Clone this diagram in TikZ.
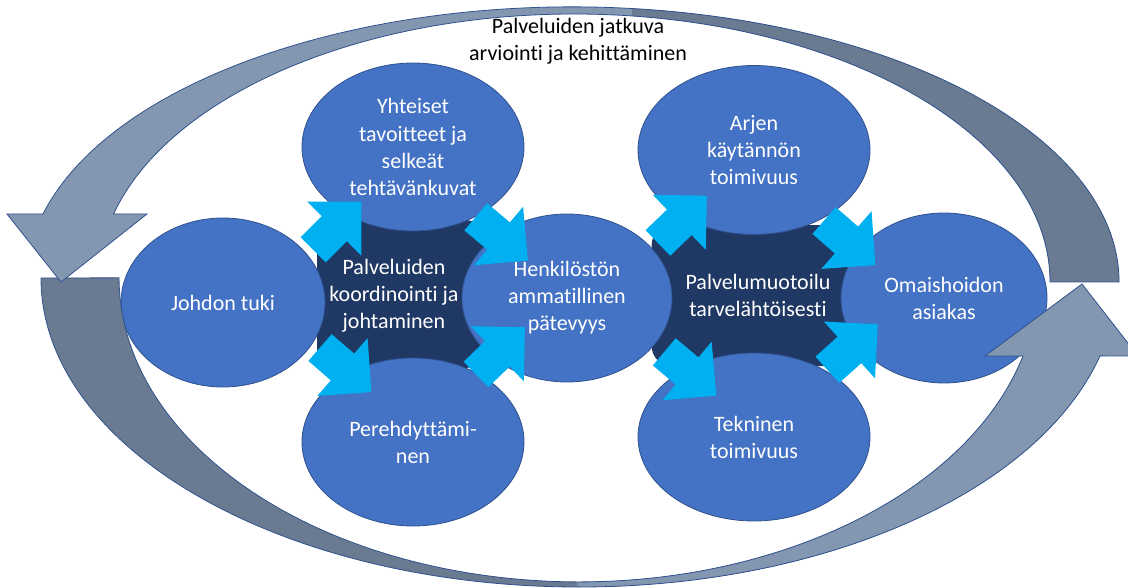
\documentclass[tikz,border=0pt]{standalone}
\usepackage{fontspec}
\setmainfont{Carlito}[Ligatures=NoCommon]
\usetikzlibrary{shapes.geometric,shapes.arrows}
\definecolor{bubblefill}{HTML}{4472C4}
\definecolor{bubbleedge}{HTML}{2F528F}
\definecolor{hubfill}{HTML}{203864}
\definecolor{flowfill}{HTML}{00B0F0}
\definecolor{cyclelight}{HTML}{8497B0}
\definecolor{cycledark}{HTML}{6A7A91}
% outlines of the two curved cycle arrows
\newcommand{\toploop}{(43,214) arc[start angle=194.3, end angle=360, x radius=546.5, y radius=275]
  -- (1050,282) arc[start angle=360, end angle=194.7, x radius=476, y radius=268]
  -- (147,214) -- (61,282) -- (7,214) -- cycle}
\newcommand{\bottomloop}{(41,278) arc[start angle=180, end angle=14.6, x radius=538.2, y radius=309]
  -- (1138,356) -- (1082,284) -- (985,356) -- (1023,356)
  arc[start angle=14.9, end angle=180, x radius=459.7, y radius=304] -- cycle}
\begin{document}
\begin{tikzpicture}[x=0.75pt, y=-0.75pt,
  every node/.style={font=\fontsize{16.5}{20.3}\selectfont, align=center},
  bubble/.style={ellipse, fill=bubblefill, draw=bubbleedge, line width=0.6pt, text=white, inner sep=0pt},
  hub/.style={rectangle, rounded corners=15pt, fill=hubfill, inner sep=0pt},
  flow/.style={single arrow, fill=flowfill, single arrow head extend=15.4pt,
    inner xsep=0pt, inner ysep=13.1pt, minimum height=51pt}]
  \useasboundingbox (0,0) rectangle (1128,588);
  % Dark hubs behind the bubbles
  \node[hub, minimum width=126pt, minimum height=111pt] (koord) at (401,294) {};
  \node[hub, minimum width=164pt, minimum height=105.75pt] (muoto) at (761,295.5) {};
  % Bubbles
  \node[bubble, minimum width=153pt, minimum height=126.75pt] (johto) at (223,302.5) {Johdon tuki};
  \node[bubble, minimum width=166.5pt, minimum height=126pt] (tavoite) at (413,147) {Yhteiset\\tavoitteet ja\\selkeät\\tehtävänkuvat};
  \node[bubble, minimum width=166.5pt, minimum height=126pt] (pere) at (413,442) {Perehdyttämi-\\nen};
  \node[bubble, minimum width=157.5pt, minimum height=126pt] (henk) at (567,298) {Henkilöstön\\ammatillinen\\pätevyys};
  \node[bubble, minimum width=174pt, minimum height=126.75pt] (arki) at (754,150) {Arjen\\käytännön\\toimivuus};
  \node[bubble, minimum width=174pt, minimum height=126pt] (tekn) at (754,437) {Tekninen\\toimivuus};
  \node[bubble, minimum width=154.5pt, minimum height=127.5pt] (asiakas) at (944,298) {Omaishoidon\\asiakas};
  % Block arrows between the bubbles
  \foreach \n/\p/\a in {f1/{(331,232)}/45, f2/{(495,233)}/-40, f3/{(339,364)}/-41, f4/{(494,357)}/44,
                        f5/{(676,225.5)}/44, f6/{(843,237)}/-41, f7/{(683.5,368)}/-40, f8/{(846,353)}/42} {
    \node[flow, rotate=\a] (\n) at \p {};
  }
  % Hub texts
  \node[text=white] (koordteksti) at (394,296) {Palveluiden\\koordinointi ja\\johtaminen};
  \node[text=white] (muototeksti) at (758,295) {Palvelumuotoilu\\tarvelähtöisesti};
  % Continuous evaluation cycle
  \fill[cycledark] \bottomloop;
  \begin{scope}
    \clip (577,250) rectangle (1140,600);
    \fill[cyclelight] \bottomloop;
  \end{scope}
  \draw[bubbleedge, line width=0.6pt] \bottomloop;
  \fill[cyclelight] \toploop;
  \begin{scope}
    \clip (632,0) rectangle (1140,290);
    \fill[cycledark] \toploop;
  \end{scope}
  \draw[bubbleedge, line width=0.6pt] \toploop;
  \node (kehitys) at (578,41.5) {Palveluiden jatkuva\\arviointi ja kehittäminen};
\end{tikzpicture}
\end{document}
